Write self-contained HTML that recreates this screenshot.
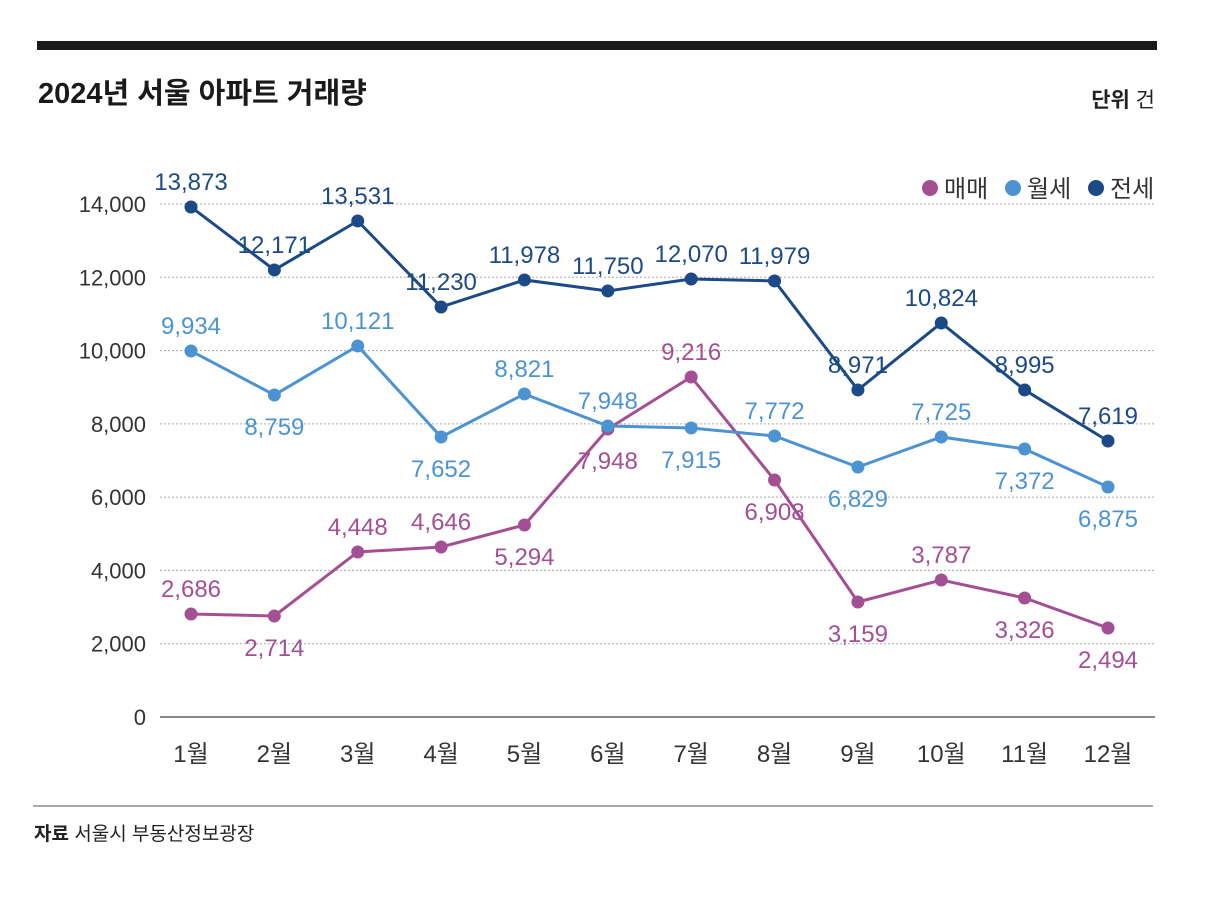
<!DOCTYPE html>
<html><head><meta charset="utf-8"><style>
body{margin:0;background:#fff;}
svg text{font-family:"Liberation Sans","Noto Sans CJK KR",sans-serif;}
</style></head><body>
<svg id="chart" width="1206" height="896" viewBox="0 0 1206 896" xmlns="http://www.w3.org/2000/svg">
<rect x="37" y="41" width="1120" height="9" fill="#1a1a1a"/>
<text x="38" y="103" font-size="29" font-weight="bold" fill="#1a1a1a">2024년 서울 아파트 거래량</text>
<text x="1155" y="107" font-size="21" text-anchor="end" fill="#222"><tspan font-weight="bold">단위</tspan> 건</text>
<g>
<circle cx="930" cy="188" r="8" fill="#a44f93"/>
<text x="944" y="197" font-size="24" fill="#333">매매</text>
<circle cx="1013" cy="188" r="8" fill="#4c93d3"/>
<text x="1027" y="197" font-size="24" fill="#333">월세</text>
<circle cx="1096" cy="188" r="8" fill="#1c4a86"/>
<text x="1110" y="197" font-size="24" fill="#333">전세</text>
</g>
<g id="grid"></g><g id="series"></g>
<line x1="33" y1="806" x2="1153" y2="806" stroke="#555" stroke-width="1"/>
<text x="34" y="840" font-size="19" fill="#222"><tspan font-weight="bold">자료</tspan> 서울시 부동산정보광장</text>
</svg>
<script>
const months=["1월","2월","3월","4월","5월","6월","7월","8월","9월","10월","11월","12월"];
const yTicks=[0,2000,4000,6000,8000,10000,12000,14000];
const yTickLabels=["0","2,000","4,000","6,000","8,000","10,000","12,000","14,000"];
const jeonse=[13919,12200,13537,11190,11927,11627,11954,11900,8925,10753,8925,7533];
const jeonseLabels=["13,873","12,171","13,531","11,230","11,978","11,750","12,070","11,979","8,971","10,824","8,995","7,619"];
const jeonseSide=["a","a","a","a","a","a","a","a","a","a","a","a"];
const wolse=[9989,8788,10126,7642,8816,7942,7888,7669,6823,7642,7314,6277];
const wolseLabels=["9,934","8,759","10,121","7,652","8,821","7,948","7,915","7,772","6,829","7,725","7,372","6,875"];
const wolseSide=["a","b","a","b","a","a","b","a","b","a","b","b"];
const maemae=[2811,2757,4503,4640,5240,7860,9279,6468,3139,3739,3248,2429];
const maemaeLabels=["2,686","2,714","4,448","4,646","5,294","7,948","9,216","6,908","3,159","3,787","3,326","2,494"];
const maemaeSide=["a","b","a","a","b","b","a","b","b","a","b","b"];

const NS="http://www.w3.org/2000/svg";
const y0=717,y1=204,x0=191,x1=1108;
const yS=v=>y0-(v/14000)*(y0-y1);
const xS=i=>x0+i*(x1-x0)/(months.length-1);
function mk(tag,attrs,parent){const e=document.createElementNS(NS,tag);for(const k in attrs)e.setAttribute(k,attrs[k]);parent.appendChild(e);return e;}
const grid=document.getElementById('grid');
yTicks.forEach((t,i)=>{
  const l=mk('line',{x1:160,x2:1155,y1:yS(t),y2:yS(t),stroke:i===0?'#444':'#aaa','stroke-width':i===0?1.3:1,'stroke-dasharray':i===0?'none':'2,2'},grid);
  
  
  const tx=mk('text',{x:146,y:yS(t)+8,'font-size':22,'text-anchor':'end',fill:'#333'},grid);
  tx.textContent=yTickLabels[i];
  
  
});
months.forEach((m,i)=>{
  const tx=mk('text',{x:xS(i),y:762,'font-size':24,'text-anchor':'middle',fill:'#333'},grid);
  tx.textContent=m;
  
  
});
const sg=document.getElementById('series');
function draw(vals,labels,side,color,name){
  const g=mk('g',{},sg);
  
  
  const p=mk('polyline',{points:vals.map((v,i)=>xS(i)+','+yS(v)).join(' '),fill:'none',stroke:color,'stroke-width':3},g);
  
  
  vals.forEach((v,i)=>{
    const c=mk('circle',{cx:xS(i),cy:yS(v),r:6.5,fill:color},g);
    
    
    const ty=side[i]==='a'?yS(v)-17:yS(v)+40;
    const t=mk('text',{x:xS(i),y:ty,'font-size':24,'text-anchor':'middle',fill:color},g);
    t.textContent=labels[i];
    
    
  });
}
draw(maemae,maemaeLabels,maemaeSide,'#a44f93','maemae');
draw(wolse,wolseLabels,wolseSide,'#4c93d3','wolse');
draw(jeonse,jeonseLabels,jeonseSide,'#1c4a86','jeonse');
</script>
</body></html>
